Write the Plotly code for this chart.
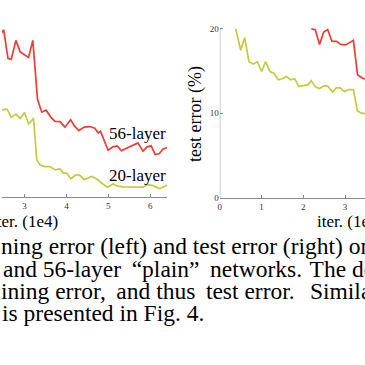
import plotly.graph_objects as go

# ---- data ----
train_x_56 = [2.40, 2.501, 2.603, 2.682, 2.793, 2.896, 3.095, 3.197, 3.309, 3.411, 3.513, 3.632, 3.727,
              3.846, 3.964, 4.100, 4.188, 4.297, 4.425, 4.558, 4.677, 4.758, 4.812, 4.995, 5.114, 5.216,
              5.311, 5.430, 5.549, 5.708, 5.827, 5.929, 6.024, 6.119, 6.221, 6.302, 6.404]
train_y_56 = [19.0, 19.77, 16.40, 16.28, 18.52, 17.16, 16.51, 18.52, 11.55, 10.03, 10.27, 9.42, 8.95,
              8.91, 8.26, 9.14, 8.44, 7.86, 8.26, 8.33, 8.14, 7.59, 7.79, 5.53, 5.93, 6.05,
              5.47, 5.73, 6.00, 6.40, 5.42, 5.93, 6.05, 5.03, 5.15, 5.65, 5.85]

train_x_20 = [2.39, 2.461, 2.580, 2.682, 2.793, 2.896, 3.000, 3.095, 3.214, 3.292, 3.371, 3.489, 3.608,
              3.727, 3.846, 3.926, 4.005, 4.107, 4.219, 4.321, 4.425, 4.599, 4.717, 4.836, 4.979,
              5.114, 5.233, 5.352, 5.508, 5.667, 5.827, 5.945, 6.064, 6.221, 6.302, 6.404]
train_y_20 = [10.27, 10.30, 10.38, 9.42, 9.80, 9.30, 10.00, 8.64, 9.30, 4.37, 3.79, 3.60, 3.60,
              3.21, 3.33, 2.83, 2.83, 2.16, 2.63, 2.56, 2.05, 2.44, 2.16, 1.66, 1.16,
              1.55, 1.28, 1.20, 1.16, 1.16, 1.16, 1.47, 1.35, 1.00, 1.16, 1.40]

test_x_20 = [0.381, 0.500, 0.595, 0.698, 0.802, 0.898, 1.000, 1.095, 1.198, 1.293, 1.398, 1.493, 1.595,
             1.690, 1.793, 1.888, 2.007, 2.112, 2.190, 2.286, 2.388, 2.500, 2.588, 2.698, 2.786,
             2.881, 2.983, 3.079, 3.198, 3.293, 3.398, 3.55]
test_y_20 = [19.97, 17.44, 18.92, 16.08, 15.81, 16.08, 14.92, 16.08, 14.92, 14.73, 13.95, 14.07, 14.34,
             13.95, 14.07, 13.17, 13.26, 13.37, 13.84, 13.10, 12.91, 13.26, 13.17, 12.48, 12.99,
             12.99, 12.52, 12.79, 12.79, 10.27, 10.00, 9.90]

test_x_56 = [2.190, 2.286, 2.388, 2.483, 2.583, 2.683, 2.793, 2.898, 3.012, 3.107, 3.198, 3.298, 3.405, 3.55]
test_y_56 = [19.97, 19.85, 18.10, 19.57, 19.88, 18.52, 18.49, 18.12, 18.06, 18.29, 18.60, 14.53, 14.15, 13.95]

left_ticks = [3, 4, 5, 6]
right_xticks = [0, 1, 2, 3]
right_yticks = [0, 10, 20]

# caption lines (justified in the original: a few thin spaces widen the word gaps)
caption_lines = [
    "ning error (left) and test error (right) on",
    "and 56-layer\u2009 “plain”\u2009 networks.\u200a The deeper",
    "ining error,\u2009 and thus\u2009 test error.\u2009\u2009 Similar",
    "is presented in Fig. 4.",
]

RED = "#f03c32"
YEL = "#c5cb3c"
GRAY = "#8a8a8a"
SERIF = "Liberation Serif"
W = H = 365

fig = go.Figure()
fig.add_trace(go.Scatter(x=train_x_56, y=train_y_56, mode="lines", line=dict(color=RED, width=1.7),
                         xaxis="x", yaxis="y", showlegend=False, hoverinfo="skip"))
fig.add_trace(go.Scatter(x=train_x_20, y=train_y_20, mode="lines", line=dict(color=YEL, width=1.7),
                         xaxis="x", yaxis="y", showlegend=False, hoverinfo="skip"))
fig.add_trace(go.Scatter(x=test_x_56, y=test_y_56, mode="lines", line=dict(color=RED, width=1.7),
                         xaxis="x2", yaxis="y2", showlegend=False, hoverinfo="skip"))
fig.add_trace(go.Scatter(x=test_x_20, y=test_y_20, mode="lines", line=dict(color=YEL, width=1.7),
                         xaxis="x2", yaxis="y2", showlegend=False, hoverinfo="skip"))

def ypix(p):
    return (H - p) / H

def xpix(p):
    return p / W

tickfont = dict(family=SERIF, size=9, color="#333")
fig.update_layout(
    width=W, height=H, margin=dict(l=0, r=0, t=0, b=0),
    paper_bgcolor="white", plot_bgcolor="white",
    xaxis=dict(domain=[0, xpix(166)], range=[2.461, 6.404], tickvals=left_ticks,
               showline=True, linecolor=GRAY, linewidth=1, ticks="inside", ticklen=3,
               tickcolor=GRAY, tickfont=tickfont, showgrid=False, zeroline=False, anchor="y"),
    yaxis=dict(domain=[ypix(199.3), ypix(23.0)], range=[0, 20.5], visible=False, anchor="x"),
    xaxis2=dict(domain=[xpix(219), 1.0], range=[0, 3.476], tickvals=right_xticks,
                showline=True, linecolor=GRAY, linewidth=1, ticks="inside", ticklen=3,
                tickcolor=GRAY, tickfont=tickfont, showgrid=False, zeroline=False, anchor="y2"),
    yaxis2=dict(domain=[ypix(200), ypix(23.7)], range=[0, 20.5], tickvals=right_yticks,
                showline=False, ticks="inside", ticklen=3, tickcolor=GRAY, tickfont=tickfont,
                showgrid=False, zeroline=False, anchor="x2"),
)

fig.add_shape(type="line", xref="x2", yref="y2", x0=0, x1=0, y0=0, y1=20,
              line=dict(color=GRAY, width=1))

def ann(text, x, y, size, xanchor="left", yanchor="middle", angle=0):
    fig.add_annotation(text=text, xref="paper", yref="paper", x=xpix(x), y=ypix(y),
                       xanchor=xanchor, yanchor=yanchor, showarrow=False, textangle=angle,
                       font=dict(family=SERIF, size=size, color="black"))

ann("56-layer", 167, 135, 17, xanchor="right")
ann("20-layer", 167, 177, 17, xanchor="right")
ann("test error (%)", 194, 115, 18, xanchor="center", angle=-90)
ann("iter. (1e4)", -12, 224, 17)
ann("iter. (1e4)", 315, 224, 17)

cap_y = [249, 272, 295, 317]
cap_x = [-3, -1, -3, -2]
for t, xx, yy in zip(caption_lines, cap_x, cap_y):
    ann(t, xx, yy, 23.5)

fig.write_html("out.html", config={"displayModeBar": False, "staticPlot": True},
               post_script="document.body.style.margin='0';document.body.style.overflow='hidden';")
